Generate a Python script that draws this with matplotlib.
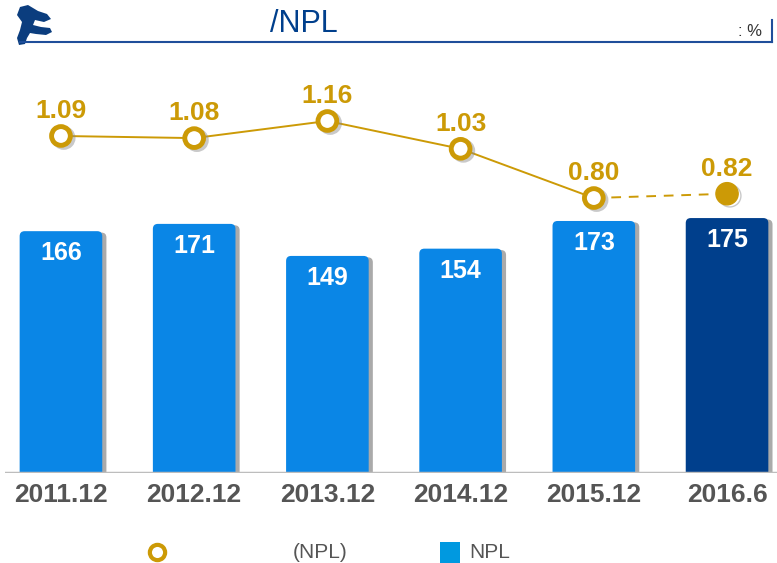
import numpy as np
import matplotlib.pyplot as plt
import matplotlib.patheffects as pe
from matplotlib.patches import FancyBboxPatch, Polygon, Rectangle
from matplotlib.lines import Line2D

plt.rcParams["font.family"] = ["Liberation Sans", "DejaVu Sans"]

# chart data
periods = ["2011.12", "2012.12", "2013.12", "2014.12", "2015.12", "2016.6"]
npl_balance = [166, 171, 149, 154, 173, 175]
npl_ratio = [1.09, 1.08, 1.16, 1.03, 0.80, 0.82]

bar_blue = "#0a86e6"
bar_navy = "#003f8c"
gold = "#cc9a06"
grey_text = "#555555"

fig = plt.figure(figsize=(7.77, 5.63), dpi=100)
W, H = 777, 563

# plot area in pixels: left 5, right 777, bottom 473, top 60
ax = fig.add_axes([5 / W, 1 - 473 / H, 772 / W, (473 - 60) / H])
x = np.arange(len(periods))
ax.set_xlim(-0.42, 5.375)
ax.set_ylim(0, 283.5)

bar_w = 0.62
px_x = 772 / (5.375 + 0.42)
px_y = (473 - 60) / 283.5
for i, v in enumerate(npl_balance):
    color = bar_navy if i == len(npl_balance) - 1 else bar_blue
    patch = FancyBboxPatch((x[i] - bar_w / 2, -10), bar_w, v + 10,
                           boxstyle="round,pad=0,rounding_size=%f" % (5 / px_x),
                           mutation_aspect=px_x / px_y,
                           facecolor=color, edgecolor="none", zorder=2)
    patch.set_path_effects([pe.SimplePatchShadow(offset=(3, -1), shadow_rgbFace="#444444", alpha=0.45),
                            pe.Normal()])
    ax.add_patch(patch)
    ax.annotate(str(v), (x[i], v), xytext=(0, -16), textcoords="offset points",
                ha="center", va="center", color="white", fontsize=18,
                fontweight="bold", zorder=5)

for s in ax.spines.values():
    s.set_visible(False)
ax.axhline(0, color="#bdbdbd", lw=2.5, zorder=3)
ax.set_yticks([])
ax.set_xticks(x)
ax.set_xticklabels(periods, fontsize=19, fontweight="bold", color=grey_text)
ax.tick_params(axis="x", length=0, pad=7)

# NPL ratio line on a second axis
ax2 = ax.twinx()
ax2.set_ylim(-0.485, 1.445)
ax2.set_yticks([])
for s in ax2.spines.values():
    s.set_visible(False)
shadow = [pe.SimpleLineShadow(offset=(2, -1.5), shadow_color="#888888", alpha=0.45), pe.Normal()]
ax2.plot(x[:5], npl_ratio[:5], color=gold, lw=1.4, zorder=3)
ax2.plot(x[4:], npl_ratio[4:], color=gold, lw=1.4, ls=(0, (5, 4)), zorder=3)
ax2.plot(x[:5], npl_ratio[:5], ls="none", marker="o", ms=13.5, mfc="white", mec=gold,
         mew=3.5, zorder=4, path_effects=shadow)
ax2.plot(x[5:], npl_ratio[5:], ls="none", marker="o", ms=16, mfc=gold, mec=gold,
         zorder=4, path_effects=shadow)
for i, v in enumerate(npl_ratio):
    ax2.annotate("%.2f" % v, (x[i], v), xytext=(0, 18), textcoords="offset points",
                 ha="center", va="center", color=gold, fontsize=19, fontweight="bold")

# header: logo, title, underline, unit
logo_pts = [(20, 7), (28, 5), (38, 11), (47, 14), (51, 19), (44, 22), (35, 20), (33, 25),
            (41, 27), (50, 28), (52, 32), (46, 35), (36, 34), (30, 33), (27, 38), (25, 44),
            (19, 45), (17, 38), (20, 30), (22, 22), (17, 15)]
logo = Polygon([(px / W, 1 - py / H) for px, py in logo_pts], closed=True,
               transform=fig.transFigure, facecolor="#0b3d7e", edgecolor="none")
fig.patches.append(logo)
fig.add_artist(Line2D([20 / W, 772 / W], [1 - 42 / H, 1 - 42 / H], color="#1f4e9a", lw=1.5))
fig.add_artist(Line2D([772 / W, 772 / W], [1 - 42 / H, 1 - 20 / H], color="#1f4e9a", lw=1.5))
fig.text(304 / W, 1 - 24 / H, "/NPL", ha="center", va="center", fontsize=22,
         color="#003f8c")
fig.text(750 / W, 1 - 31 / H, ": %", ha="center", va="center", fontsize=12, color="#333333")

# legend row
fig.add_artist(Line2D([157 / W], [1 - 552 / H], marker="o", ms=11, mfc="white",
                      mec=gold, mew=3, ls="none"))
fig.text(320 / W, 1 - 552 / H, "(NPL)", ha="center", va="center", fontsize=15,
         color=grey_text)
fig.patches.append(Rectangle((440 / W, 1 - 563 / H), 20 / W, 21 / H,
                             transform=fig.transFigure, facecolor="#0099e0", edgecolor="none"))
fig.text(469 / W, 1 - 552 / H, "NPL", ha="left", va="center", fontsize=15,
         color=grey_text)

fig.savefig("out.png", dpi=100)
